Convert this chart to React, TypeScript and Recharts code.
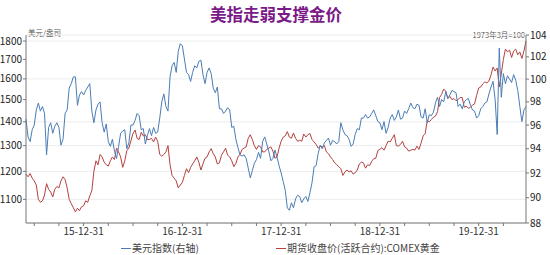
import React from 'react';
import { LineChart, Line, XAxis, YAxis, CartesianGrid } from 'recharts';

// weekly-ish readings, 4 per month, Jun 2015 .. Jun 2020
const gold2015 = [
  1190, 1180, 1192, 1175, 1165, 1150, 1100, 1090, 1095, 1115, 1155, 1135,
  1125, 1108, 1135, 1145, 1140, 1165, 1180, 1170, 1140, 1100, 1085, 1072,
  1058, 1070, 1062, 1075,
];
const gold2016 = [
  1078, 1095, 1090, 1112, 1130, 1200, 1240, 1225, 1265, 1255, 1235, 1225,
  1220, 1240, 1255, 1245, 1290, 1275, 1255, 1215, 1240, 1280, 1290, 1320,
  1350, 1365, 1330, 1325, 1355, 1340, 1345, 1325, 1325, 1330, 1315, 1335,
  1318, 1265, 1258, 1265, 1275, 1300, 1225, 1185, 1175, 1165, 1140, 1150,
];
const gold2017 = [
  1160, 1185, 1210, 1195, 1215, 1228, 1240, 1255, 1235, 1205, 1228, 1250,
  1255, 1275, 1288, 1268, 1255, 1228, 1232, 1262, 1275, 1290, 1262, 1255,
  1240, 1218, 1230, 1255, 1265, 1285, 1290, 1295, 1330, 1345, 1325, 1300,
  1285, 1300, 1295, 1275, 1275, 1285, 1290, 1295, 1278, 1250, 1255, 1290,
];
const gold2018 = [
  1318, 1335, 1340, 1358, 1335, 1330, 1352, 1330, 1318, 1322, 1318, 1348,
  1335, 1345, 1350, 1325, 1315, 1305, 1290, 1298, 1295, 1300, 1275, 1268,
  1255, 1245, 1232, 1225, 1218, 1210, 1185, 1198, 1205, 1198, 1202, 1190,
  1195, 1205, 1228, 1235, 1232, 1212, 1225, 1222, 1238, 1248, 1250, 1280,
];
const gold2019 = [
  1285, 1292, 1282, 1300, 1318, 1315, 1330, 1345, 1300, 1298, 1305, 1318,
  1295, 1290, 1278, 1282, 1285, 1282, 1298, 1285, 1310, 1340, 1350, 1405,
  1400, 1410, 1420, 1425, 1445, 1510, 1525, 1550, 1540, 1505, 1515, 1500,
  1505, 1495, 1500, 1510, 1510, 1465, 1470, 1460, 1465, 1475, 1480, 1520,
];
const gold2020 = [
  1555, 1560, 1575, 1585, 1580, 1590, 1620, 1660, 1640, 1655, 1560, 1625,
  1700, 1755, 1740, 1750, 1710, 1745, 1755, 1725, 1740, 1705, 1745, 1800,
];

const dxy2015 = [
  96.5, 95.0, 94.6, 95.6, 96.0, 97.3, 97.9, 97.2, 97.6, 97.0, 93.5, 95.8,
  96.2, 95.3, 95.9, 96.2, 95.8, 94.3, 94.8, 97.0, 97.3, 99.2, 99.6, 100.2,
  100.2, 97.7, 98.6, 98.9,
];
const dxy2016 = [
  98.6, 99.0, 99.3, 99.6, 97.2, 96.2, 97.3, 97.8, 98.0, 96.2, 95.4, 96.1,
  94.6, 94.2, 94.8, 93.8, 93.2, 94.2, 95.3, 95.5, 95.6, 94.0, 94.5, 96.0,
  96.0, 96.4, 97.0, 96.8, 95.6, 95.7, 94.4, 95.1, 95.7, 95.1, 95.8, 95.3,
  95.4, 96.6, 98.0, 98.7, 97.6, 97.2, 100.2, 101.2, 101.5, 100.6, 102.5, 103.2,
];
const dxy2017 = [
  103.0, 101.8, 100.6, 100.4, 99.8, 100.6, 101.2, 101.0, 101.6, 101.7, 100.4, 99.6,
  100.6, 101.0, 100.5, 99.2, 98.8, 99.3, 97.4, 97.4, 97.0, 97.2, 97.5, 97.3,
  95.8, 95.9, 94.8, 94.1, 93.5, 93.4, 93.5, 93.2, 92.4, 91.6, 92.2, 92.8,
  93.1, 93.7, 93.2, 94.6, 95.0, 94.4, 93.8, 93.0, 93.2, 93.9, 93.3, 92.6,
];
const dxy2018 = [
  92.0, 91.3, 90.6, 89.2, 89.0, 89.6, 89.2, 89.9, 90.2, 90.1, 89.6, 89.9,
  90.1, 89.7, 90.4, 91.2, 92.5, 92.6, 93.6, 94.3, 94.0, 94.5, 94.7, 94.9,
  94.3, 94.7, 94.6, 94.4, 94.6, 96.2, 95.6, 95.2, 95.1, 94.8, 94.2, 94.4,
  95.2, 95.7, 95.6, 96.6, 96.6, 96.9, 96.6, 96.7, 97.0, 97.3, 96.8, 96.3,
];
const dxy2019 = [
  96.2, 95.6, 96.3, 95.3, 95.8, 96.6, 96.9, 96.4, 96.7, 97.3, 96.5, 96.6,
  97.2, 97.0, 97.4, 97.9, 97.5, 97.4, 97.8, 97.7, 96.7, 96.6, 97.4, 96.2,
  96.9, 96.8, 97.1, 97.9, 98.4, 97.6, 98.2, 98.0, 98.9, 98.3, 98.6, 99.0,
  98.9, 98.8, 97.6, 97.8, 97.4, 98.0, 98.2, 98.3, 97.7, 97.3, 97.2, 96.6,
];
const dxy2020 = [
  96.8, 97.4, 97.6, 97.9, 98.0, 98.7, 99.3, 99.8, 98.2, 95.2, 102.8, 98.4,
  100.5, 99.6, 100.3, 100.0, 99.7, 100.4, 99.9, 99.0, 97.6, 96.3, 97.3, 97.6,
];

const goldPrice = [...gold2015, ...gold2016, ...gold2017, ...gold2018, ...gold2019, ...gold2020];
const dollarIndex = [...dxy2015, ...dxy2016, ...dxy2017, ...dxy2018, ...dxy2019, ...dxy2020];

const yearEndLabels = ['15-12-31', '16-12-31', '17-12-31', '18-12-31', '19-12-31'];
const goldTicks = [1100, 1200, 1300, 1400, 1500, 1600, 1700, 1800];
const dollarTicks = [88, 90, 92, 94, 96, 98, 100, 102, 104];

const chartData = goldPrice.map((g, i) => ({
  t: 2015 + 5 / 12 + i / 48,
  gold: g,
  dxy: dollarIndex[i],
}));

// quarterly tick marks, labels only at year end
const quarterTicks: number[] = [];
for (let q = 2015.5; q <= 2020.25; q += 0.25) quarterTicks.push(q);

const fmtX = (v: number) => {
  if (!Number.isInteger(v)) return '';
  return yearEndLabels[v - 2016] ?? '';
};

const BLUE = '#4a7db5';
const RED = '#b5403f';
const FONT = '"Noto Sans CJK SC", "Noto Sans", sans-serif';

export default function App() {
  return (
    <div style={{ position: 'relative', width: 550, height: 255, fontFamily: FONT, background: '#fff' }}>
      <style>{'body{margin:0}'}</style>
      <div
        style={{
          position: 'absolute', top: 4, left: 0, width: 552, textAlign: 'center',
          fontSize: 16.5, lineHeight: '20px', fontWeight: 700, color: '#7a1a88',
        }}
      >
        美指走弱支撑金价
      </div>
      <div style={{ position: 'absolute', top: 28, left: 28, fontSize: 7.5, color: '#555', lineHeight: '9px' }}>
        美元/盎司
      </div>
      <div style={{ position: 'absolute', top: 30, right: 25, fontSize: 7.5, color: '#555', lineHeight: '9px' }}>
        1973年3月=100
      </div>
      <LineChart
        width={550}
        height={255}
        data={chartData}
        margin={{ top: 35, right: 0, left: 0, bottom: 12 }}
        style={{ fontFamily: FONT }}
      >
        <CartesianGrid yAxisId="left" vertical={false} stroke="#ececec" />
        <XAxis
          dataKey="t"
          type="number"
          domain={['dataMin', 'dataMax']}
          ticks={quarterTicks}
          tickFormatter={fmtX}
          interval={0}
          height={20}
          tickSize={3}
          tickMargin={2}
          stroke="#777"
          tick={{ fontSize: 10, fill: '#333' }}
        />
        <YAxis
          yAxisId="left"
          type="number"
          scale="log"
          domain={[1022, 1834]}
          ticks={goldTicks}
          allowDataOverflow
          width={26}
          tickSize={3}
          tickMargin={1}
          stroke="#777"
          tick={{ fontSize: 10, fill: '#222' }}
        />
        <YAxis
          yAxisId="right"
          orientation="right"
          type="number"
          scale="log"
          domain={[88, 104]}
          ticks={dollarTicks}
          allowDataOverflow
          width={24}
          tickSize={3}
          tickMargin={1}
          stroke="#777"
          tick={{ fontSize: 10, fill: '#222' }}
        />
        <Line
          yAxisId="left"
          dataKey="gold"
          type="linear"
          stroke={RED}
          strokeWidth={1}
          dot={false}
          isAnimationActive={false}
        />
        <Line
          yAxisId="right"
          dataKey="dxy"
          type="linear"
          stroke={BLUE}
          strokeWidth={1}
          dot={false}
          isAnimationActive={false}
        />
      </LineChart>
      <div style={{ position: 'absolute', top: 241, left: 121, display: 'flex', alignItems: 'center', fontSize: 10, color: '#444', lineHeight: '14px' }}>
        <span style={{ display: 'inline-block', width: 10, height: 1, background: BLUE, marginRight: 1 }} />
        美元指数(右轴)
      </div>
      <div style={{ position: 'absolute', top: 241, left: 276, display: 'flex', alignItems: 'center', fontSize: 10, color: '#444', lineHeight: '14px' }}>
        <span style={{ display: 'inline-block', width: 10, height: 1, background: RED, marginRight: 1 }} />
        期货收盘价(活跃合约):COMEX黄金
      </div>
    </div>
  );
}
